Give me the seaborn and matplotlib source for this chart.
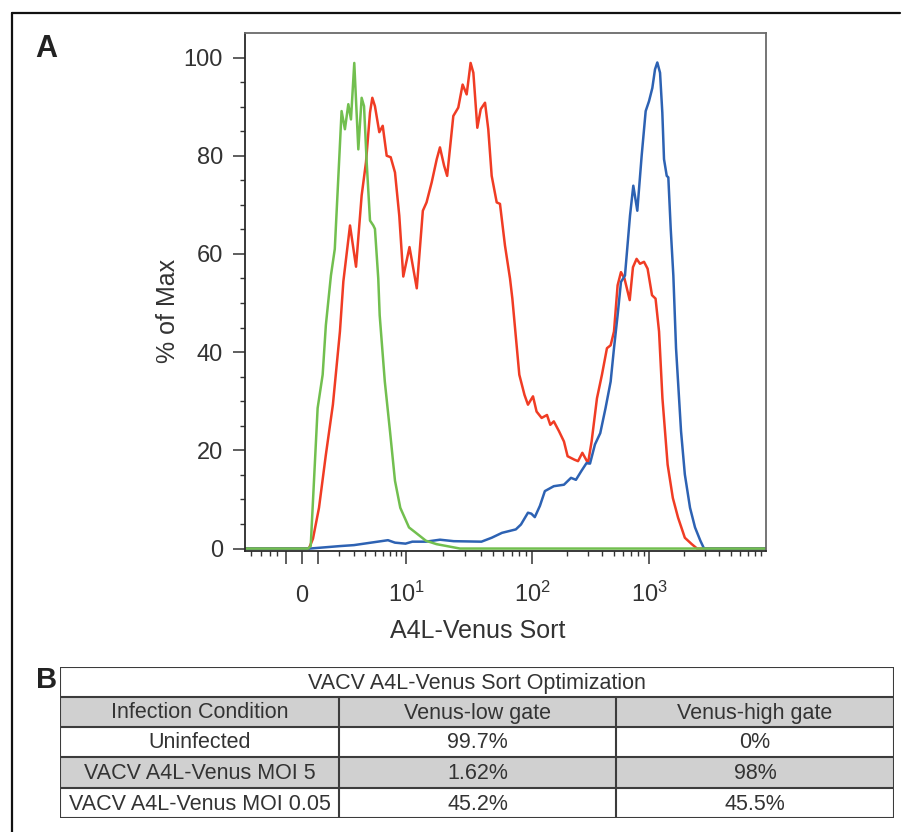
import numpy as np
import pandas as pd
import matplotlib
matplotlib.use("Agg")
import matplotlib.pyplot as plt
import seaborn as sns
from matplotlib.patches import Rectangle
from matplotlib.lines import Line2D

# A4L-Venus intensity (x) and % of max (y) for each sample
uninf_x = [-10.8, 0.30, 0.46, 0.97, 1.19, 1.33, 1.57, 1.77, 2.16, 2.37, 2.60, 2.79, 3.04,
           3.37, 3.66, 3.88, 4.14, 4.48, 4.84, 5.03, 5.43, 5.61, 6.30, 7.07, 7.89, 8.85,
           10.6, 12.1, 14.6, 17.8, 21.6, 27.4, 10000]
uninf_y = [0, 0, 0.5, 28.6, 35.4, 45.5, 55.6, 61, 89.1, 85.4, 90.5, 87.4, 98.9,
           81.3, 91.8, 90.1, 78.6, 66.8, 65.8, 65.1, 55, 47.5, 34, 23.9, 13.8, 8.3,
           4.3, 3.2, 1.6, 0.9, 0.5, 0, 0]

moi005_x = [-10.8, 0.35, 0.61, 1.04, 1.33, 1.67, 2.06, 2.27, 2.72, 3.18, 3.66, 4.07, 4.48,
            4.73, 5.03, 5.56, 6.01, 6.57, 7.18, 7.89, 8.66, 9.44, 10.7, 12.3, 13.8, 14.8,
            16.3, 17.9, 19.0, 20.5, 21.7, 24.3, 26.6, 28.8, 31.0, 33.3, 35.0, 37.6, 40.0,
            43.2, 45.8, 48.7, 53.3, 56.5, 61.8, 67.6, 70.5, 79.8, 87.5, 93.1, 102, 109.5,
            121, 134.5, 143.6, 153.9, 170.5, 188, 202, 231, 248, 270, 302, 324, 360, 397,
            438, 471, 503, 540, 577, 618, 685, 730, 784, 838, 907, 973, 1061, 1138, 1219,
            1303, 1443, 1599, 1772, 2025, 2320, 2575, 10000]
moi005_y = [0, 0, 2, 8.3, 19.1, 29.3, 44.2, 54.4, 65.8, 57.4, 71.9, 78.7, 88.8,
            91.8, 90.1, 84.8, 86.1, 80, 79.7, 76.6, 67.8, 55.4, 61.4, 53, 68.8, 70.5,
            74.6, 79.3, 81.7, 78, 75.9, 88.1, 89.8, 94.5, 92.5, 98.9, 96.9, 85.7, 89.5,
            90.8, 85.4, 75.9, 70.5, 70.2, 61.7, 55, 50.9, 35.4, 31.3, 29.3, 31, 27.9,
            26.6, 27.2, 25.2, 25.9, 23.9, 21.8, 18.8, 18.1, 17.8, 19.5, 17.4, 21.8, 30.6, 35.4,
            40.8, 41.4, 44.2, 53.6, 56.3, 55, 50.6, 57.3, 59, 58, 58.4, 57, 51.6, 50.9, 44.2,
            30.6, 17.1, 10.3, 6.3, 2.2, 0.9, 0, 0]

moi5_x = [-10.8, 0.41, 2.06, 3.02, 4.58, 6.76, 7.89, 9.9, 11.3, 14.6, 19.0, 24.5, 40.5,
          48.7, 58.6, 75, 82.2, 93.1, 98.9, 105.7, 117, 129, 153.9, 188, 216, 238, 265,
          293, 314, 346, 384, 426, 471, 503, 540, 577, 624, 689, 735, 795, 866, 937,
          1000, 1068, 1126, 1178, 1243, 1300, 1344, 1418, 1463, 1534, 1615, 1703, 1879,
          2025, 2243, 2475, 2748, 2955, 10000]
moi5_y = [0, 0, 0.5, 0.7, 1.2, 1.7, 1.2, 1.0, 1.4, 1.4, 1.8, 1.5, 1.4,
          2.2, 3.2, 3.9, 4.9, 7.3, 7.1, 6.4, 8.7, 11.7, 12.7, 13, 14.4, 14, 15.8,
          17.4, 17.3, 21.2, 23.5, 28.6, 34, 40.8, 47.5, 54.3, 55.6, 67.8, 73.9, 68.8, 80, 89.1,
          91.1, 93.8, 97.6, 99, 96.9, 88.8, 79.3, 75.9, 75.6, 65.1, 55.6, 40.8, 23.9,
          15.1, 8.3, 4.3, 1.6, 0, 0]

series_names = ["VACV A4L-Venus MOI 0.05", "VACV A4L-Venus MOI 5", "Uninfected"]
series_colors = ["#f03c24", "#2d62b3", "#72bf4f"]

xtick_values = [0, 10, 100, 1000]
xtick_labels = ["0", r"$10^{1}$", r"$10^{2}$", r"$10^{3}$"]

# table (panel B)
table_title = "VACV A4L-Venus Sort Optimization"
table_header = ["Infection Condition", "Venus-low gate", "Venus-high gate"]
conditions = ["Uninfected", "VACV A4L-Venus MOI 5", "VACV A4L-Venus MOI 0.05"]
low_gate = ["99.7%", "1.62%", "45.2%"]
high_gate = ["0%", "98%", "45.5%"]

# biexponential-like display scale
T_ANCH = [-2.0, 0.0, 0.30103, 1.04139, 2.00432, 3.000434, 4.0000434, 5.0]
P_ANCH = [195.7, 302, 318, 406, 532, 649, 766, 883]


def fwd(x):
    x = np.asarray(x, dtype=float)
    t = np.sign(x) * np.log10(1 + np.abs(x))
    return np.interp(t, T_ANCH, P_ANCH)


def inv(p):
    t = np.interp(np.asarray(p, dtype=float), P_ANCH, T_ANCH)
    return np.sign(t) * (10 ** np.abs(t) - 1)


df = pd.concat([
    pd.DataFrame({"x": moi005_x, "y": moi005_y, "sample": series_names[0]}),
    pd.DataFrame({"x": moi5_x, "y": moi5_y, "sample": series_names[1]}),
    pd.DataFrame({"x": uninf_x, "y": uninf_y, "sample": series_names[2]}),
])

sns.set_theme(style="ticks")
plt.rcParams["font.family"] = ["Liberation Sans", "DejaVu Sans"]
plt.rcParams["mathtext.fontset"] = "custom"
plt.rcParams["mathtext.rm"] = "Liberation Sans"
plt.rcParams["mathtext.it"] = "Liberation Sans"
plt.rcParams["mathtext.default"] = "regular"

W, H = 905, 832
txt = "#333333"
fig = plt.figure(figsize=(W / 100, H / 100), dpi=100)

ax = fig.add_axes([245 / W, 1 - 551 / H, 521 / W, 518 / H])
ax.set_xscale("function", functions=(fwd, inv))
sns.lineplot(data=df, x="x", y="y", hue="sample", hue_order=series_names,
             palette=dict(zip(series_names, series_colors)), linewidth=1.8,
             estimator=None, sort=False, legend=False, ax=ax)

ax.set_xlim(-10.8, 10000)
ax.set_ylim(-0.5, 105)

# x ticks
ax.set_xticks([-1] + xtick_values[:1] + [1] + xtick_values[1:])
ax.set_xticklabels([])
minor = ([-2, -3, -5, -8] + list(range(2, 10)) + list(range(20, 100, 10))
         + list(range(200, 1000, 100)) + list(range(2000, 10000, 1000)))
ax.set_xticks(minor, minor=True)
for v, lab in zip(xtick_values, xtick_labels):
    ax.text(v, -0.0985, lab, transform=ax.get_xaxis_transform(), ha="center",
            va="baseline", fontsize=17, color=txt)

# y ticks
ax.set_yticks(range(0, 101, 20))
ax.set_yticks([v for v in range(5, 101, 5) if v % 20], minor=True)
ax.tick_params(axis="both", which="major", length=9, width=1.1, color="#333333",
               labelsize=17, labelcolor=txt, pad=7)
ax.tick_params(axis="both", which="minor", length=3.5, width=1.0, color="#333333")
ax.set_xlabel("")
ax.set_ylabel("")

for side in ["left", "bottom"]:
    ax.spines[side].set_color("#2a2a2a")
    ax.spines[side].set_linewidth(1.3)
for side in ["top", "right"]:
    ax.spines[side].set_color("#6a6a6a")
    ax.spines[side].set_linewidth(1.3)

fig.text(478 / W, 1 - 631 / H, "A4L-Venus Sort", ha="center", va="center",
         fontsize=18, color=txt)
fig.text(168 / W, 1 - 311 / H, "% of Max", ha="center", va="center",
         rotation=90, fontsize=18, color=txt)

# panel letters and outer frame
fig.text(35 / W, 1 - 49 / H, "A", fontsize=22, fontweight="bold", va="center",
         ha="left", color="#222222")
fig.text(36 / W, 1 - 680 / H, "B", fontsize=21, fontweight="bold", va="center",
         ha="left", color="#222222")
fig.add_artist(Line2D([12 / W, 12 / W], [0, 1 - 13 / H], color="#111111", lw=1.6))
fig.add_artist(Line2D([12 / W, 900 / W], [1 - 13 / H, 1 - 13 / H], color="#111111", lw=1.6))

# table
tx0, tx1 = 60, 894
col_edges = [60, 339, 616, 894]
row_edges = [667, 697, 727, 757, 788, 818]
tab = fig.add_axes([tx0 / W, 1 - 818 / H, (tx1 - tx0) / W, (818 - 667) / H])
tab.set_xlim(tx0, tx1)
tab.set_ylim(818, 667)
tab.axis("off")

rows = [table_header] + [[c, lo, hi] for c, lo, hi in zip(conditions, low_gate, high_gate)]
grey_rows = [0, 2]
for i, r in enumerate(rows):
    y0, y1 = row_edges[i + 1], row_edges[i + 2]
    if i in grey_rows:
        tab.add_patch(Rectangle((tx0, y0), tx1 - tx0, y1 - y0, facecolor="#d0d0d0",
                                edgecolor="none"))
    for j, val in enumerate(r):
        tab.text((col_edges[j] + col_edges[j + 1]) / 2, (y0 + y1) / 2 + 1, val,
                 ha="center", va="center", fontsize=15.5, color=txt)

tab.text((tx0 + tx1) / 2, (row_edges[0] + row_edges[1]) / 2 + 1, table_title,
         ha="center", va="center", fontsize=15.5, color=txt)

lc = "#3c3c3c"
for yy in row_edges:
    tab.plot([tx0, tx1], [yy, yy], color=lc, lw=1.5, solid_capstyle="projecting")
for xx in [tx0, tx1]:
    tab.plot([xx, xx], [row_edges[0], row_edges[-1]], color=lc, lw=1.5,
             solid_capstyle="projecting")
for xx in col_edges[1:-1]:
    tab.plot([xx, xx], [row_edges[1], row_edges[-1]], color=lc, lw=1.5)

fig.savefig("out.png", dpi=100)
